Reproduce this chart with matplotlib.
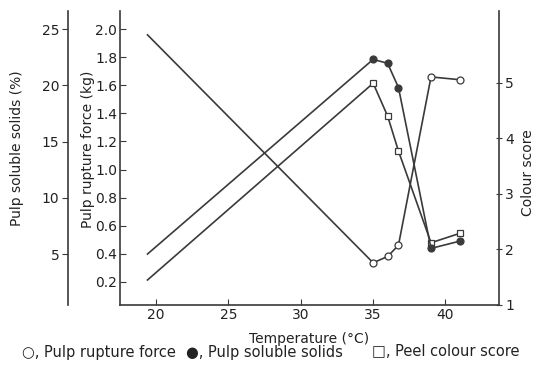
import matplotlib
matplotlib.use('Agg')
import matplotlib.pyplot as plt

plt.rcParams['font.family'] = ['DejaVu Sans']

# Data
temperature = [19.4, 35, 36, 36.75, 39, 41]
rupture_force = [1.96, 0.335, 0.38, 0.46, 1.66, 1.64]      # kg
soluble_solids = [5.0, 22.3, 21.95, 19.8, 5.5, 6.15]       # %
colour_score = [1.45, 4.99, 4.40, 3.77, 2.12, 2.29]

x_ticks = [20, 25, 30, 35, 40]
rupture_ticks = [0.2, 0.4, 0.6, 0.8, 1.0, 1.2, 1.4, 1.6, 1.8, 2.0]
solids_ticks = [5, 10, 15, 20, 25]
colour_ticks = [1, 2, 3, 4, 5]

key_labels = ['○, Pulp rupture force', '●, Pulp soluble solids', '□, Peel colour score']

line_col = '#3a3a3a'
text_col = '#222222'
fs = 10

fig = plt.figure(figsize=(5.37, 3.68), dpi=100)
ax = fig.add_axes([120 / 537, 1 - 305 / 368, 379 / 537, 294 / 368])
ax_col = ax.twinx()
ax_sol = ax.twinx()

# spines
ax.spines['top'].set_visible(False)
ax.spines['right'].set_visible(False)
ax_col.spines['top'].set_visible(False)
ax_col.spines['left'].set_visible(False)
ax_col.spines['bottom'].set_visible(False)
for s in ['top', 'right', 'bottom']:
    ax_sol.spines[s].set_visible(False)
ax_sol.spines['left'].set_position(('outward', 37.6))
ax_sol.yaxis.set_ticks_position('left')
ax_sol.yaxis.set_label_position('left')
for a in (ax, ax_col, ax_sol):
    for s in a.spines.values():
        s.set_color(line_col)
        s.set_linewidth(1.2)

mk = dict(color=line_col, lw=1.2, markersize=5, markeredgewidth=0.9,
          markeredgecolor=line_col, markevery=range(1, len(temperature)))
ax.plot(temperature, rupture_force, marker='o', markerfacecolor='white', **mk)
ax_sol.plot(temperature, soluble_solids, marker='o', markerfacecolor=line_col, **mk)
ax_col.plot(temperature, colour_score, marker='s', markerfacecolor='white',
            **dict(mk, markersize=4.5))

ax.set_xlim(17.5, 43.7)
ax.set_ylim(0.034, 2.13)
ax_sol.set_ylim(0.47, 26.6)
ax_col.set_ylim(1.036, 6.29)

ax.set_xticks(x_ticks)
ax.set_yticks(rupture_ticks)
ax.set_yticklabels([f'{v:.1f}' for v in rupture_ticks])
ax_sol.set_yticks(solids_ticks)
ax_col.set_yticks(colour_ticks)

tk = dict(length=4, pad=2, labelsize=fs, color=line_col, labelcolor=text_col)
ax.tick_params(axis='x', direction='in', **tk)
ax.tick_params(axis='y', direction='in', **tk)
ax_sol.tick_params(axis='y', direction='out', **tk)
ax_col.tick_params(axis='y', direction='inout', **dict(tk, length=5))

ax.set_xlabel('Temperature (°C)', fontsize=fs, labelpad=7, color=text_col)
ax.set_ylabel('Pulp rupture force (kg)', fontsize=fs, color=text_col)
ax.yaxis.set_label_coords(-0.066, 0.53)
ax_sol.set_ylabel('Pulp soluble solids (%)', fontsize=fs, color=text_col)
ax_sol.yaxis.set_label_coords(-0.253, 0.535)
ax_col.set_ylabel('Colour score', fontsize=fs, color=text_col)
ax_col.yaxis.set_label_coords(1.058, 0.45)

# key line under the chart
for xc, lab in zip([99, 264, 446], key_labels):
    fig.text(xc / 537, 1 - 352 / 368, lab, ha='center', va='center',
             fontsize=10.5, color=text_col)

fig.savefig('out.png', dpi=100)
